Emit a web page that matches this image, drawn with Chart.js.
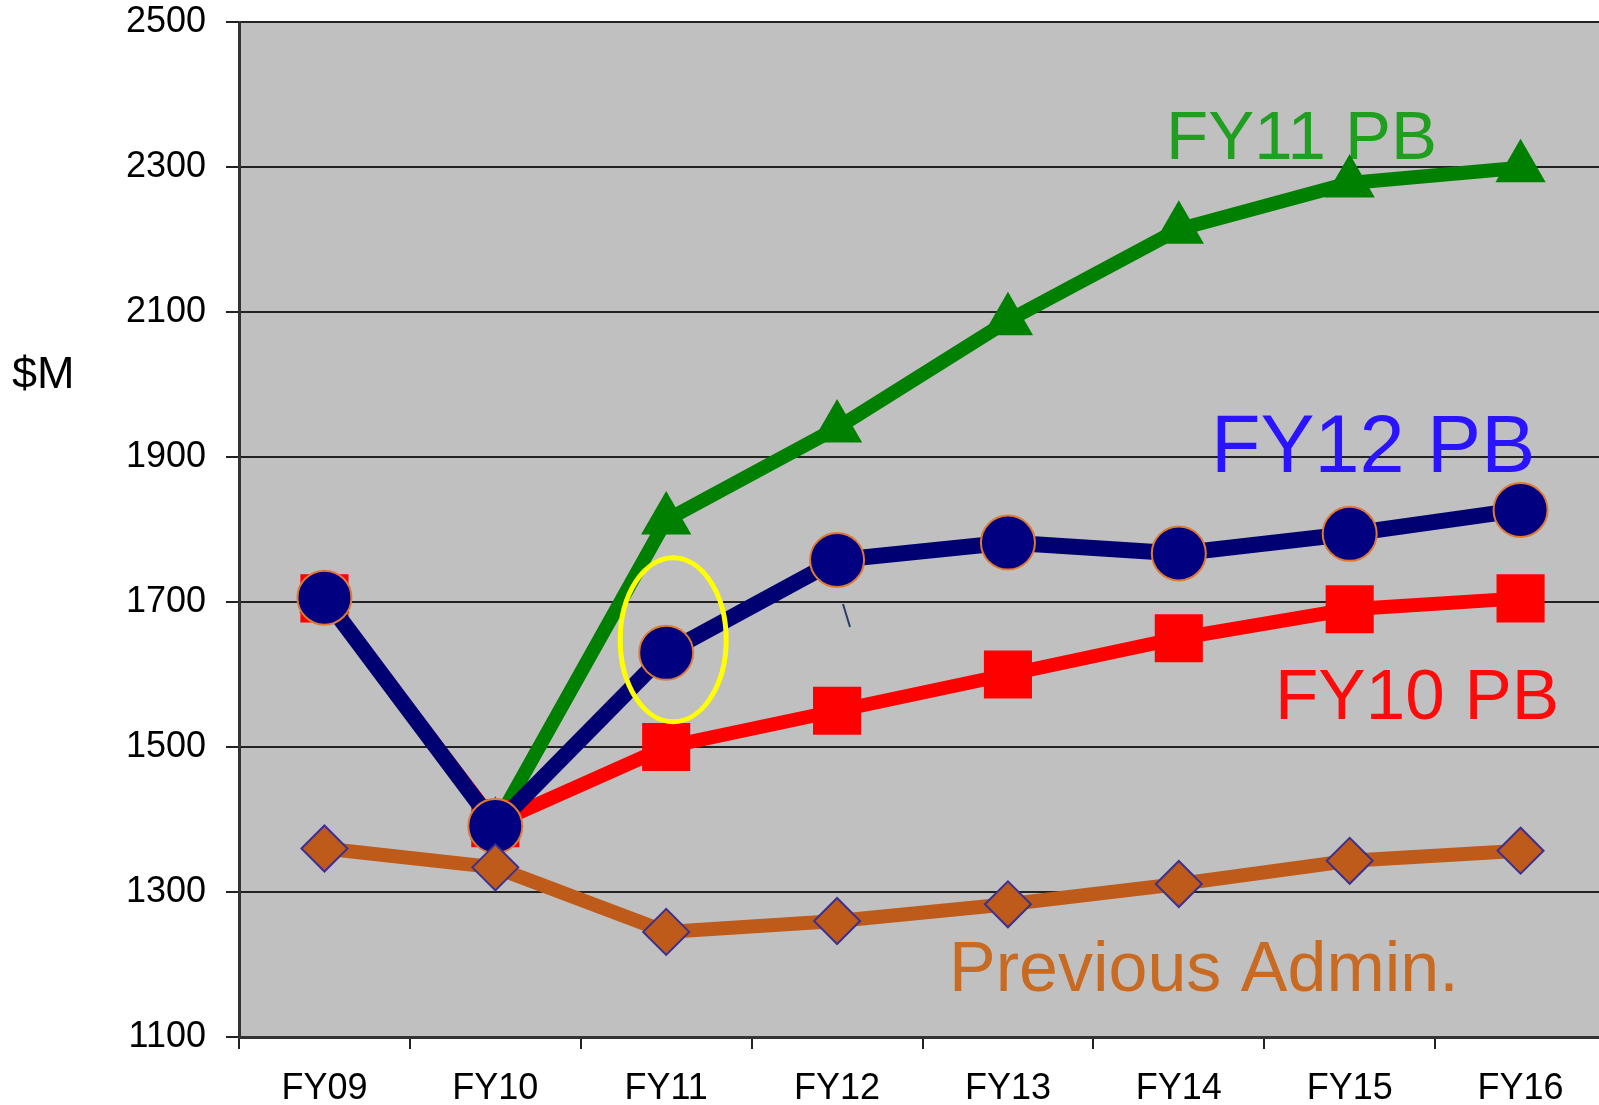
<!DOCTYPE html>
<html>
<head>
<meta charset="utf-8">
<script src="https://cdn.jsdelivr.net/npm/chart.js@4"></script>
<style>
  html, body { margin: 0; padding: 0; background: #fff; overflow: hidden; }
  #chart { display: block; }
</style>
</head>
<body>
<canvas id="chart" width="1606" height="1105"></canvas>
<script>
// ===== DATA =====
const years = ['FY09', 'FY10', 'FY11', 'FY12', 'FY13', 'FY14', 'FY15', 'FY16'];
const fy11PB = [1705, 1392, 1813, 1940, 2088, 2214, 2278, 2299];
const fy12PB = [1706, 1391, 1630, 1758, 1782, 1767, 1794, 1827];
const fy10PB = [1705, 1395, 1500, 1550, 1600, 1650, 1690, 1705];
const prevAdmin = [1360, 1334, 1245, 1260, 1283, 1311, 1343, 1357];
const yTicks = [1100, 1300, 1500, 1700, 1900, 2100, 2300, 2500];

// Gray plot background + free text labels
const decorPlugin = {
    id: 'decor',
    beforeDraw(chart) {
        const { ctx, chartArea } = chart;
        ctx.save();
        ctx.fillStyle = '#c0c0c0';
        ctx.fillRect(chartArea.left, chartArea.top, chartArea.right - chartArea.left, chartArea.bottom - chartArea.top);
        ctx.restore();
    },
    beforeDatasetsDraw(chart) {
        const { ctx } = chart;
        ctx.save();
        ctx.textBaseline = 'alphabetic';
        ctx.textAlign = 'left';
        ctx.font = '69px "Liberation Sans", Arial, sans-serif';
        ctx.fillStyle = '#1f9e1f';
        ctx.fillText('FY11 PB', 1166, 159);
        ctx.font = '81px "Liberation Sans", Arial, sans-serif';
        ctx.fillStyle = '#2a14ff';
        ctx.fillText('FY12 PB', 1211, 472);
        ctx.font = '71px "Liberation Sans", Arial, sans-serif';
        ctx.fillStyle = '#ff0a0a';
        ctx.fillText('FY10 PB', 1275, 719);
        ctx.font = '70px "Liberation Sans", Arial, sans-serif';
        ctx.fillStyle = '#c86a22';
        ctx.fillText('Previous Admin.', 949, 991);
        // small stray stroke
        ctx.strokeStyle = '#2c3a66';
        ctx.lineWidth = 2;
        ctx.beginPath();
        ctx.moveTo(843, 604);
        ctx.lineTo(850, 627);
        ctx.stroke();
        ctx.restore();
    },
    afterDatasetsDraw(chart) {
        const { ctx } = chart;
        // yellow ellipse around the FY11 point of FY12 PB
        const meta = chart.getDatasetMeta(1);
        const pt = meta.data[2];
        ctx.save();
        ctx.strokeStyle = '#ffff00';
        ctx.lineWidth = 5;
        ctx.beginPath();
        ctx.ellipse(pt.x + 7, pt.y - 13, 53, 82, 0, 0, Math.PI * 2);
        ctx.stroke();
        // $M label
        ctx.fillStyle = '#000';
        ctx.font = '45px "Liberation Sans", Arial, sans-serif';
        ctx.textAlign = 'left';
        ctx.textBaseline = 'alphabetic';
        ctx.fillText('$M', 12, 388);
        ctx.restore();
    }
};

function createLineChart() {
    const ctx = document.getElementById('chart');
    if (!ctx) return;

    const data = {
        labels: years,
        datasets: [
            {
                label: 'Previous Admin.',
                data: prevAdmin,
                borderColor: '#bf5b1a',
                borderWidth: 14,
                pointStyle: 'rectRot',
                pointRadius: 23,
                pointBackgroundColor: '#bf5b1a',
                pointBorderColor: '#3d3090',
                pointBorderWidth: 2
            },
            {
                label: 'FY12 PB',
                data: fy12PB,
                borderColor: '#000072',
                borderWidth: 16,
                pointStyle: 'circle',
                pointRadius: 27,
                pointBackgroundColor: '#000080',
                pointBorderColor: '#e07a30',
                pointBorderWidth: 2
            },
            {
                label: 'FY10 PB',
                data: fy10PB,
                borderColor: '#ff0000',
                borderWidth: 14,
                pointStyle: 'rect',
                pointRadius: 34,
                pointBackgroundColor: '#ff0000',
                pointBorderColor: '#ff0000',
                pointBorderWidth: 0
            },
            {
                label: 'FY11 PB',
                data: fy11PB,
                borderColor: '#008000',
                borderWidth: 14,
                pointStyle: 'triangle',
                pointRadius: 29,
                pointBackgroundColor: '#008000',
                pointBorderColor: '#008000',
                pointBorderWidth: 0
            }
        ]
    };

    new Chart(ctx, {
        type: 'line',
        data: data,
        options: {
            responsive: false,
            animation: false,
            events: [],
            layout: { autoPadding: false, padding: { top: 22, left: 0, right: 0, bottom: 0 } },
            elements: { line: { tension: 0 } },
            plugins: {
                legend: { display: false },
                tooltip: { enabled: false }
            },
            scales: {
                x: {
                    offset: true,
                    grid: {
                        offset: true,
                        drawOnChartArea: false,
                        drawTicks: true,
                        tickLength: 12,
                        color: '#222',
                        lineWidth: 2
                    },
                    border: { display: true, color: '#333', width: 3 },
                    ticks: {
                        color: '#000',
                        padding: 18,
                        font: { family: '"Liberation Sans", Arial, sans-serif', size: 36 }
                    },
                    afterFit(scale) {
                        scale.height = 68;
                        scale.paddingLeft = 0;
                        scale.paddingRight = 0;
                    }
                },
                y: {
                    min: yTicks[0],
                    max: yTicks[yTicks.length - 1],
                    afterBuildTicks(scale) {
                        scale.ticks = yTicks.map(v => ({ value: v }));
                    },
                    grid: {
                        color: '#222',
                        lineWidth: 2,
                        tickLength: 13
                    },
                    border: { display: true, color: '#333', width: 3 },
                    ticks: {
                        color: '#000',
                        padding: 20,
                        font: { family: '"Liberation Sans", Arial, sans-serif', size: 36 },
                        callback: (value) => String(value)
                    },
                    afterFit(scale) {
                        scale.width = 239;
                        scale.paddingTop = 0;
                        scale.paddingBottom = 0;
                    }
                }
            }
        },
        plugins: [decorPlugin]
    });
}

document.addEventListener('DOMContentLoaded', createLineChart);
</script>
</body>
</html>
